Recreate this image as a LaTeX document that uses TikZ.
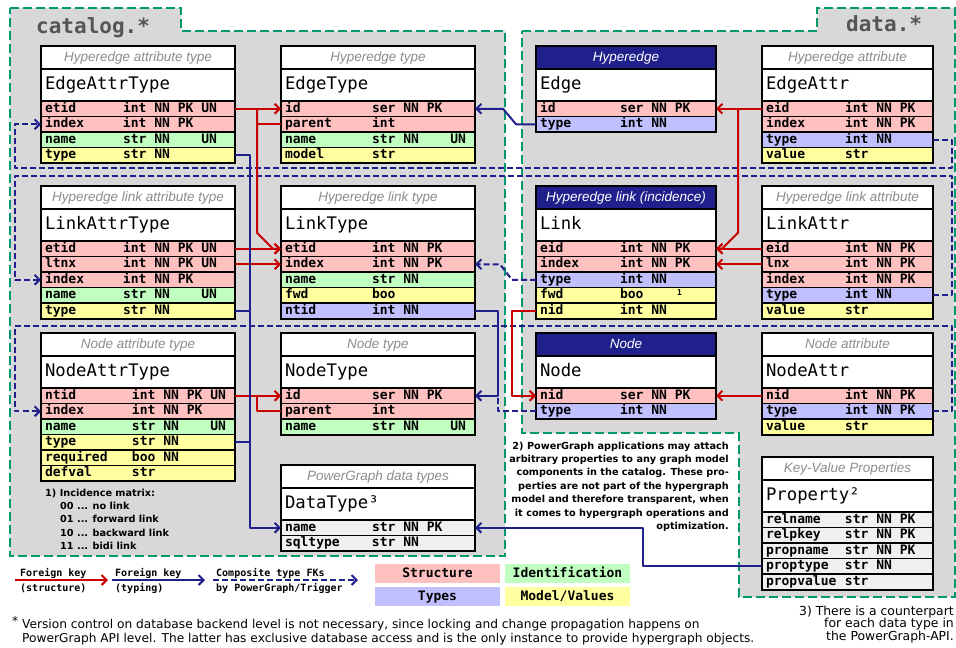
\documentclass[tikz,border=0pt]{standalone}
\usepackage{fontspec}
\setmainfont{DejaVu Sans}
\setmonofont{DejaVu Sans Mono}
\newfontfamily\hdrfamily{Liberation Sans}
\usetikzlibrary{arrows.meta,calc}
\definecolor{cpk}{RGB}{255,192,192}
\definecolor{cid}{RGB}{192,255,192}
\definecolor{cty}{RGB}{192,192,255}
\definecolor{cva}{RGB}{255,255,160}
\definecolor{cgy}{RGB}{240,240,240}
\definecolor{creg}{RGB}{216,216,216}
\definecolor{cnavy}{RGB}{32,32,140}
\definecolor{cred}{RGB}{200,0,0}
\definecolor{cgreen}{RGB}{0,153,112}
\definecolor{chdr}{RGB}{140,140,140}
\definecolor{ctitle}{RGB}{85,85,85}

\newcommand\rowfnt{\fontsize{13}{13}\selectfont\ttfamily\bfseries}
\newcommand\namefnt{\fontsize{17.3}{17.3}\selectfont\ttfamily}
\newcommand\hdrfnt{\fontsize{13.5}{13.5}\selectfont\hdrfamily\itshape}
\newcommand\legfnt{\fontsize{10}{10}\selectfont\ttfamily\bfseries}
\newcommand\boxfnt{\fontsize{13}{13}\selectfont\ttfamily\bfseries}
\newcommand\notebfnt{\fontsize{9.7}{13.4}\selectfont\bfseries}
\newcommand\notefnt{\fontsize{12.2}{14}\selectfont}
\newcommand\notesfnt{\fontsize{12.4}{12.3}\selectfont}
\newcommand\titlefnt{\fontsize{21}{21}\selectfont\ttfamily\bfseries}

\tikzset{
  dbrowst/.style={draw=black, line width=1.5pt, inner sep=0pt, outer sep=0pt,
    minimum height=15.5pt, text height=9.5pt, text depth=2.8pt, font=\rowfnt},
  rpk/.style={fill=cpk}, rid/.style={fill=cid}, rty/.style={fill=cty},
  rva/.style={fill=cva}, rgy/.style={fill=cgy},
  hl/.style={draw=black, line width=1.5pt, fill=white, inner sep=0pt, outer sep=0pt,
    minimum height=23pt, text height=10pt, text depth=3pt, font=\hdrfnt, text=chdr},
  hd/.style={hl, fill=cnavy, text=white},
  nameband/.style={draw=black, line width=1.5pt, fill=white, inner sep=0pt, outer sep=0pt,
    minimum height=32pt, text height=13pt, text depth=4pt, font=\namefnt},
  arrtip/.style={-{Straight Barb[length=5pt,width=10pt]}},
  fred/.style={draw=cred, line width=2pt, line join=round},
  fnavy/.style={draw=cnavy, line width=2pt, line join=round},
  fcomp/.style={fnavy, dash pattern=on 6pt off 3pt},
  region/.style={fill=creg, draw=cgreen, line width=1.8pt, dash pattern=on 9pt off 4pt},
  legtxt/.style={anchor=base west, inner sep=0pt, font=\legfnt},
  legbox/.style={minimum width=125pt, minimum height=19pt, inner sep=0pt, font=\boxfnt,
    text height=9.5pt, text depth=2.5pt},
}

\newcommand\dbtable[8]{%
  \gdef\curtp{#1}\gdef\curtw{#4}\gdef\curtoff{#5}%
  \node[#6, anchor=north west] (#1-h) at (#2,#3) {\makebox[#4pt][c]{#7}};
  \node[nameband, anchor=north west] (#1) at (#1-h.south west) {\makebox[#4pt][l]{\hspace{4pt}#8}};
  \gdef\curprev{#1}}
\newcommand\dbrow[4]{%
  \node[dbrowst, #2, anchor=north west] (\curtp-#1) at (\curprev.south west)
    {\makebox[\curtw pt][l]{\hspace{4pt}\makebox[\curtoff pt][l]{#3}#4}};
  \xdef\curprev{\curtp-#1}}
\newcommand\dbend{\draw[line width=2pt] (\curtp-h.north west) rectangle (\curprev.south east);}

\begin{document}
\begin{tikzpicture}[x=1pt,y=-1pt]
\fill[white] (0,0) rectangle (956,648);
\useasboundingbox (0,0) rectangle (956,648);

% regions
\filldraw[region] (10,8) -- (181,8) -- (181,31) -- (505,31) -- (505,556) -- (10,556) -- cycle;
\filldraw[region] (522,31) -- (817,31) -- (817,8) -- (955,8) -- (955,597) -- (739,597)
  -- (739,433) -- (522,433) -- cycle;
\node[anchor=base west, font=\titlefnt, text=ctitle, inner sep=0pt] (tcat) at (36,33) {catalog.*};
\node[anchor=base west, font=\titlefnt, text=ctitle, inner sep=0pt] (tdata) at (846,31.5) {data.*};

\coordinate (le1) at (952,168); \coordinate (lw1) at (15,168);
\coordinate (le2) at (952,176); \coordinate (lw2) at (15,176);
\coordinate (le3) at (952,326); \coordinate (lw3) at (15,326);

% ---------- tables, row 1
\dbtable{eat}{41}{46}{194}{78}{hl}{Hyperedge attribute type}{EdgeAttrType}
\dbrow{etid}{rpk}{etid}{int NN PK UN}
\dbrow{index}{rpk}{index}{int NN PK}
\dbrow{name}{rid}{name}{str NN \phantom{PK} UN}
\dbrow{type}{rva}{type}{str NN}
\dbend

\dbtable{et}{281}{46}{194}{87}{hl}{Hyperedge type}{EdgeType}
\dbrow{id}{rpk}{id}{ser NN PK}
\dbrow{parent}{rpk}{parent}{int}
\dbrow{name}{rid}{name}{str NN \phantom{PK} UN}
\dbrow{model}{rva}{model}{str}
\dbend

\dbtable{e}{536}{46}{180}{80}{hd}{Hyperedge}{Edge}
\dbrow{id}{rpk}{id}{ser NN PK}
\dbrow{type}{rty}{type}{int NN}
\dbend

\dbtable{ea}{762}{46}{171}{79}{hl}{Hyperedge attribute}{EdgeAttr}
\dbrow{eid}{rpk}{eid}{int NN PK}
\dbrow{index}{rpk}{index}{int NN PK}
\dbrow{type}{rty}{type}{int NN}
\dbrow{value}{rva}{value}{str}
\dbend

% ---------- row 2
\dbtable{lat}{41}{186}{194}{78}{hl}{Hyperedge link attribute type}{LinkAttrType}
\dbrow{etid}{rpk}{etid}{int NN PK UN}
\dbrow{ltnx}{rpk}{ltnx}{int NN PK UN}
\dbrow{index}{rpk}{index}{int NN PK}
\dbrow{name}{rid}{name}{str NN \phantom{PK} UN}
\dbrow{type}{rva}{type}{str NN}
\dbend

\dbtable{lt}{281}{186}{194}{87}{hl}{Hyperedge link type}{LinkType}
\dbrow{etid}{rpk}{etid}{int NN PK}
\dbrow{index}{rpk}{index}{int NN PK}
\dbrow{name}{rid}{name}{str NN}
\dbrow{fwd}{rva}{fwd}{boo}
\dbrow{ntid}{rty}{ntid}{int NN}
\dbend

\dbtable{l}{536}{186}{180}{80}{hd}{Hyperedge link (incidence)}{Link}
\dbrow{eid}{rpk}{eid}{int NN PK}
\dbrow{index}{rpk}{index}{int NN PK}
\dbrow{type}{rty}{type}{int NN}
\dbrow{fwd}{rva}{fwd}{\makebox[57pt][l]{boo}\raisebox{3pt}{\fontsize{8}{8}\selectfont 1}}
\dbrow{nid}{rva}{nid}{int NN}
\dbend

\dbtable{la}{762}{186}{171}{79}{hl}{Hyperedge link attribute}{LinkAttr}
\dbrow{eid}{rpk}{eid}{int NN PK}
\dbrow{lnx}{rpk}{lnx}{int NN PK}
\dbrow{index}{rpk}{index}{int NN PK}
\dbrow{type}{rty}{type}{int NN}
\dbrow{value}{rva}{value}{str}
\dbend

% ---------- row 3
\dbtable{nat}{41}{333}{194}{87}{hl}{Node attribute type}{NodeAttrType}
\dbrow{ntid}{rpk}{ntid}{int NN PK UN}
\dbrow{index}{rpk}{index}{int NN PK}
\dbrow{name}{rid}{name}{str NN \phantom{PK} UN}
\dbrow{type}{rva}{type}{str NN}
\dbrow{required}{rva}{required}{boo NN}
\dbrow{defval}{rva}{defval}{str}
\dbend

\dbtable{nt}{281}{333}{194}{87}{hl}{Node type}{NodeType}
\dbrow{id}{rpk}{id}{ser NN PK}
\dbrow{parent}{rpk}{parent}{int}
\dbrow{name}{rid}{name}{str NN \phantom{PK} UN}
\dbend

\dbtable{n}{536}{333}{180}{80}{hd}{Node}{Node}
\dbrow{nid}{rpk}{nid}{ser NN PK}
\dbrow{type}{rty}{type}{int NN}
\dbend

\dbtable{na}{762}{333}{171}{79}{hl}{Node attribute}{NodeAttr}
\dbrow{nid}{rpk}{nid}{int NN PK}
\dbrow{type}{rty}{type}{int NN PK}
\dbrow{value}{rva}{value}{str}
\dbend

\dbtable{dt}{281}{465}{194}{87}{hl}{PowerGraph data types}{DataType³}
\dbrow{name}{rgy}{name}{str NN PK}
\dbrow{sqltype}{rgy}{sqltype}{str NN}
\dbend

\dbtable{pr}{762}{457}{171}{79}{hl}{Key-Value Properties}{Property²}
\dbrow{relname}{rgy}{relname}{str NN PK}
\dbrow{relpkey}{rgy}{relpkey}{str NN PK}
\dbrow{propname}{rgy}{propname}{str NN PK}
\dbrow{proptype}{rgy}{proptype}{str NN}
\dbrow{propvalue}{rgy}{propvalue}{str}
\dbend

% ---------- composite (dashed) connectors
\draw[fcomp,arrtip] (ea-type.east) -| (le1) -- (lw1) |- (eat-index.west);
\draw[fcomp,arrtip] (la-type.east) -| (le2) -- (lw2) |- (lat-index.west);
\draw[fcomp,arrtip] (na-type.east) -| (le3) -- (lw3) |- (nat-index.west);
\draw[fcomp,arrtip] (l-type.west) -- ([xshift=-24pt]l-type.west) -- ([xshift=25pt]lt-index.east) -- (lt-index.east);
\draw[fcomp] (n-type.west) -| ([xshift=23pt]nt-id.east);

% ---------- structure FKs (red)
\draw[fred,arrtip] (eat-etid.east) -- (et-id.west);
\draw[fred] (et-parent.west) -| ([xshift=-24pt]et-id.west);
\draw[fred,arrtip] ([xshift=-24pt]et-id.west) -- ([xshift=-24pt,yshift=16pt]lt-etid.west)
  -- ([xshift=-8pt]lt-etid.west) -- (lt-etid.west);
\draw[fred,arrtip] (lat-etid.east) -- (lt-etid.west);
\draw[fred,arrtip] (lat-ltnx.east) -- (lt-index.west);
\draw[fred,arrtip] (nat-ntid.east) -- (nt-id.west);
\draw[fred] (nt-parent.west) -| ([xshift=-24pt]nt-id.west);
\draw[fred,arrtip] (ea-eid.west) -- (e-id.east);
\draw[fred,arrtip] ([xshift=22pt]e-id.east) -- ([xshift=22pt,yshift=16pt]l-eid.east)
  -- ([xshift=6pt]l-eid.east) -- (l-eid.east);
\draw[fred,arrtip] (la-eid.west) -- (l-eid.east);
\draw[fred,arrtip] (la-lnx.west) -- (l-index.east);
\draw[fred,arrtip] (l-nid.west) -- ++(-24,0) |- (n-nid.west);
\draw[fred,arrtip] (na-nid.west) -- (n-nid.east);

% ---------- typing FKs (navy)
\draw[fnavy,arrtip] (e-type.west) -- ([xshift=-20pt]e-type.west) -- ([xshift=28pt]et-id.east) -- (et-id.east);
\draw[fnavy,arrtip] (eat-type.east) -- ++(15,0) |- (dt-name.west);
\draw[fnavy] (lat-type.east) -- ++(15,0);
\draw[fnavy] (nat-type.east) -- ++(15,0);
\draw[fnavy,arrtip] (lt-ntid.east) -- ++(23,0) |- (nt-id.east);
\draw[fnavy,arrtip] (pr-proptype.west) -- ++(-119,0) |- (dt-name.east);

% ---------- notes
\node[anchor=north west, align=left, font=\notebfnt, inner sep=0pt] (n1) at (45,488.5)
  {1) Incidence matrix:\\\hspace*{15pt}00 ... no link\\\hspace*{15pt}01 ... forward link\\\hspace*{15pt}10 ... backward link\\\hspace*{15pt}11 ... bidi link};
\node[anchor=north east, align=right, font=\notebfnt, inner sep=0pt] (n2) at (729,441.5)
  {2) PowerGraph applications may attach\\arbitrary properties to any graph model\\components in the catalog. These pro-\\perties are not part of the hypergraph\\model and therefore transparent, when\\it comes to hypergraph operations and\\optimization.};
\node[anchor=north east, align=right, font=\notesfnt, inner sep=0pt] (n3) at (954,606)
  {3) There is a counterpart\\for each data type in\\the PowerGraph-API.};
\node[anchor=north west, align=left, font=\notefnt, inner sep=0pt] (fn) at (22,616.5)
  {\llap{\raisebox{3pt}{*}\hspace{4pt}}Version control on database backend level is not necessary, since locking and change propagation happens on\\PowerGraph API level. The latter has exclusive database access and is the only instance to provide hypergraph objects.};

% ---------- legend
\coordinate (lgr1) at (15,580); \coordinate (lgr2) at (108,580);
\coordinate (lgn1) at (112,580); \coordinate (lgn2) at (205,580);
\coordinate (lgc1) at (213,580); \coordinate (lgc2) at (358,580);
\draw[fred,arrtip] (lgr1) -- (lgr2);
\draw[fnavy,arrtip] (lgn1) -- (lgn2);
\draw[fcomp,arrtip] (lgc1) -- (lgc2);
\node[legtxt] (lgr-a) at (20,576.5) {Foreign key};
\node[legtxt] (lgr-b) at (20,591) {(structure)};
\node[legtxt] (lgn-a) at (115,576.5) {Foreign key};
\node[legtxt] (lgn-b) at (115,591) {(typing)};
\node[legtxt] (lgc-a) at (216,576.5) {Composite type FKs};
\node[legtxt] (lgc-b) at (216,591) {by PowerGraph/Trigger};
\node[legbox, fill=cpk] (lgS) at (437.5,573.5) {Structure};
\node[legbox, fill=cid] (lgI) at (567.5,573.5) {Identification};
\node[legbox, fill=cty] (lgT) at (437.5,596.5) {Types};
\node[legbox, fill=cva] (lgM) at (567.5,596.5) {Model/Values};
\end{tikzpicture}
\end{document}
